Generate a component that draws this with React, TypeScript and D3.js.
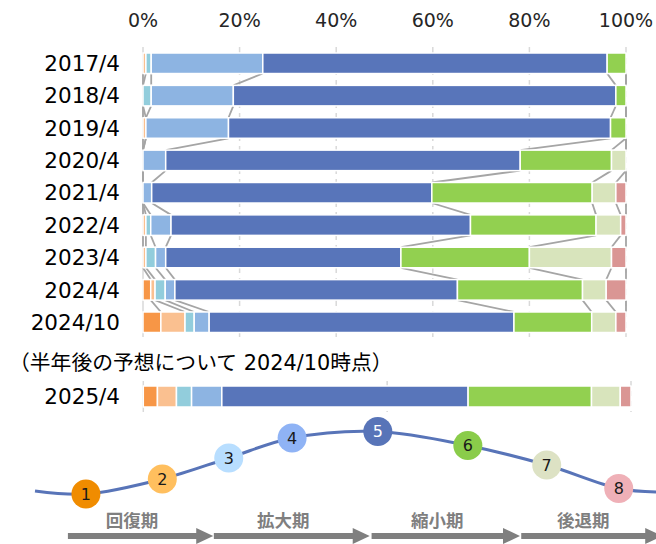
import React from "react";
import * as d3 from "d3";

// ---- data ----
const categories = ["2017/4", "2018/4", "2019/4", "2020/4", "2021/4", "2022/4", "2023/4", "2024/4", "2024/10"];
const s1 = [0, 0, 0, 0, 0, 0, 0, 1.6, 3.7];
const s2 = [0.6, 0, 0.6, 0, 0, 0.6, 0.6, 0.9, 5.0];
const s3 = [1.1, 1.7, 0, 0, 0, 1.0, 2.0, 2.1, 1.9];
const s4 = [23.1, 17.0, 17.1, 4.7, 1.8, 4.2, 2.1, 2.0, 3.1];
const s5 = [71.3, 79.2, 79.1, 73.4, 58.0, 62.0, 48.7, 58.5, 63.1];
const s6 = [3.9, 2.1, 3.2, 18.9, 33.2, 26.0, 26.6, 25.9, 16.1];
const s7 = [0, 0, 0, 3.0, 4.9, 5.1, 17.0, 4.9, 5.0];
const s8 = [0, 0, 0, 0, 2.1, 1.1, 3.0, 4.1, 2.1];

const forecastCategory = ["2025/4"];
const forecastValues = [2.9, 3.9, 3.1, 6.2, 50.5, 25.3, 5.9, 2.2];

const axisTicks = [0, 20, 40, 60, 80, 100];
const forecastGrid = [50, 100];
const noteText = "（半年後の予想について 2024/10時点）";

const stageLabels = ["1", "2", "3", "4", "5", "6", "7", "8"];
const wavePos = [0, 8.2, 20.5, 31.2, 41.4, 55.2, 69.7, 82.4, 94.0, 100];
const waveLevel = [7.6, 3.0, 25.8, 57.6, 87.9, 97.7, 76.5, 47.0, 11.4, 6.1];

const phaseNames = ["回復期", "拡大期", "縮小期", "後退期"];
const phaseStart = [5.3, 28.8, 54.2, 78.3];
const phaseEnd = [28.7, 53.9, 78.1, 101];

const barColors = ["#F79646", "#FAC090", "#92CDDC", "#8DB4E2", "#5875BA", "#92D050", "#D8E4BC", "#DA9694"];
const circleColors = ["#F08C00", "#FFBF5E", "#B8DEFF", "#8FB3F5", "#5874B8", "#8ACC4A", "#DDE2C4", "#EFB0B7"];

const FONT = "'DejaVu Sans', 'Noto Sans CJK JP', sans-serif";

export default function App() {
  const series = [s1, s2, s3, s4, s5, s6, s7, s8];
  const rows = categories.map((c, i) => series.map((s) => s[i]));

  const x = d3.scaleLinear().domain([0, 100]).range([143, 626]);
  const y = d3.scaleBand<string>().domain(categories).range([53, 332.5]).paddingInner(0.366).paddingOuter(0);
  const bw = y.bandwidth();

  const x2 = d3.scaleLinear().domain([0, 100]).range([143.3, 631]);
  const y2 = d3.scaleBand<string>().domain(forecastCategory).range([386, 407]).padding(0);

  const stackRow = (vals: number[]) => {
    let acc = 0;
    return vals.map((v) => {
      const s = acc;
      acc += v;
      return [s, acc];
    });
  };
  const stacked = rows.map(stackRow);
  const fStacked = stackRow(forecastValues);

  const wx = d3.scaleLinear().domain([0, 100]).range([35, 656]);
  const wy = d3.scaleLinear().domain([0, 100]).range([496, 430]);
  const wavePts = wavePos.map((p, i) => [wx(p), wy(waveLevel[i])] as [number, number]);
  const wavePath = d3.line().curve(d3.curveCatmullRom.alpha(0.5))(wavePts) || "";

  const arrowY = 536;
  const headLen = 17;

  return (
    <svg width={656} height={544} style={{ position: "absolute", left: 0, top: 0, fontFamily: FONT }}>
      <rect width={656} height={544} fill="#fff" />
      {/* axis labels */}
      {axisTicks.map((t) => (
        <text key={t} x={x(t)} y={27} textAnchor="middle" fontSize={19} fill="#262626">
          {t}%
        </text>
      ))}
      {/* gridlines */}
      {axisTicks.slice(1).map((t) => (
        <line key={t} x1={x(t)} x2={x(t)} y1={47} y2={337} stroke="#D9D9D9" strokeWidth={1.5} strokeDasharray="6,5" />
      ))}
      <line x1={x(0)} x2={x(0)} y1={47} y2={337} stroke="#D9D9D9" strokeWidth={1.5} />
      {/* series lines */}
      {stacked.slice(0, -1).map((row, i) =>
        row.map((seg, k) => (
          <line
            key={`c${i}-${k}`}
            x1={x(seg[1])}
            y1={(y(categories[i]) as number) + bw}
            x2={x(stacked[i + 1][k][1])}
            y2={y(categories[i + 1]) as number}
            stroke="#A5A5A5"
            strokeWidth={1.8}
          />
        ))
      )}
      {/* bars */}
      {stacked.map((row, i) =>
        row.map((seg, k) =>
          seg[1] - seg[0] > 0 ? (
            <rect
              key={`b${i}-${k}`}
              x={x(seg[0])}
              y={y(categories[i])}
              width={x(seg[1]) - x(seg[0])}
              height={bw}
              fill={barColors[k]}
              stroke="#fff"
              strokeWidth={1.5}
            />
          ) : null
        )
      )}
      {/* category labels */}
      {categories.map((c) => (
        <text key={c} x={120} y={(y(c) as number) + bw / 2} dy="0.36em" textAnchor="end" fontSize={21.5} fill="#000">
          {c}
        </text>
      ))}
      {/* note */}
      <text x={9} y={370} fontSize={20.8} fill="#000">
        {noteText}
      </text>
      {/* forecast chart */}
      {forecastGrid.map((t) => (
        <line key={t} x1={x2(t)} x2={x2(t)} y1={381} y2={412} stroke="#D9D9D9" strokeWidth={1.5} strokeDasharray="5,5" />
      ))}
      <line x1={x2(0)} x2={x2(0)} y1={381} y2={412} stroke="#D9D9D9" strokeWidth={1.5} />
      {fStacked.map((seg, k) =>
        seg[1] - seg[0] > 0 ? (
          <rect
            key={`f${k}`}
            x={x2(seg[0])}
            y={y2(forecastCategory[0])}
            width={x2(seg[1]) - x2(seg[0])}
            height={y2.bandwidth()}
            fill={barColors[k]}
            stroke="#fff"
            strokeWidth={1.5}
          />
        ) : null
      )}
      <text x={120} y={(y2(forecastCategory[0]) as number) + y2.bandwidth() / 2} dy="0.36em" textAnchor="end" fontSize={21.5} fill="#000">
        {forecastCategory[0]}
      </text>
      {/* wave */}
      <path d={wavePath} fill="none" stroke="#5874B8" strokeWidth={3} />
      {stageLabels.map((s, i) => (
        <g key={s} transform={`translate(${wx(wavePos[i + 1])},${wy(waveLevel[i + 1])})`}>
          <circle r={14.5} fill={circleColors[i]} />
          <text dy="0.36em" textAnchor="middle" fontSize={16} fill={i === 4 ? "#fff" : "#1a1a1a"}>
            {s}
          </text>
        </g>
      ))}
      {/* phase arrows */}
      {phaseNames.map((p, i) => {
        const xs = wx(phaseStart[i]);
        const xe = wx(phaseEnd[i]);
        const xh = xe - headLen;
        const d = `M${xs},${arrowY - 3}L${xh},${arrowY - 3}L${xh},${arrowY - 8}L${xe},${arrowY}L${xh},${arrowY + 8}L${xh},${arrowY + 3}L${xs},${arrowY + 3}Z`;
        return (
          <g key={p}>
            <path d={d} fill="#7F7F7F" />
            <text x={(xs + xh) / 2} y={527} textAnchor="middle" fontSize={17.5} fontWeight="bold" fill="#7F7F7F">
              {p}
            </text>
          </g>
        );
      })}
    </svg>
  );
}
